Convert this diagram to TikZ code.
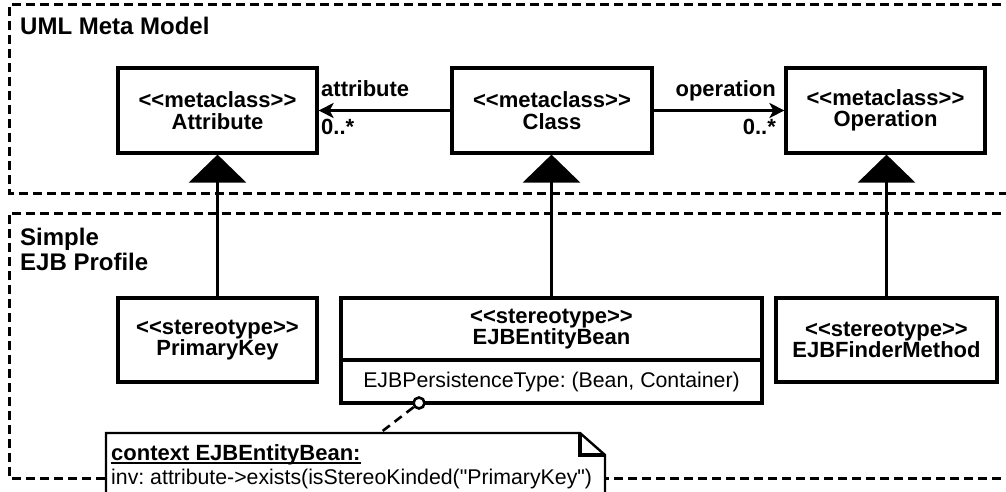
\documentclass[tikz,border=0pt]{standalone}
\usepackage{fontspec}
\newfontfamily\umlfont{Liberation Sans}
\usetikzlibrary{arrows.meta,calc}
\begin{document}
\frenchspacing
\begin{tikzpicture}[x=1pt,y=-1pt,
  every node/.style={font=\umlfont\fontsize{21.3}{21}\selectfont, inner sep=0pt},
  bold/.style={font=\umlfont\bfseries\fontsize{22}{21.5}\selectfont, align=center},
  title/.style={font=\umlfont\bfseries\fontsize{24}{25}\selectfont, anchor=base west},
  box/.style={draw, line width=3.2pt, fill=white, align=center,
    font=\umlfont\bfseries\fontsize{22}{21.5}\selectfont},
  frame/.style={line width=3pt, dash pattern=on 9pt off 5pt},
  gen/.style={line width=3pt, -{Triangle[length=28pt,width=57pt]}},
  assoc/.style={line width=3pt, -{Stealth[length=15pt,width=15pt,inset=4pt]}},
  lbl/.style={font=\umlfont\bfseries\fontsize{22}{21}\selectfont},
  noteline/.style={line width=2.6pt, dash pattern=on 9pt off 6pt}
]
\useasboundingbox (0,0) rectangle (1006,492);

% package frames, open to the right
\draw[frame] (1015,5) -- (9,5) -- (9,193) -- (1015,193);
\draw[frame] (1015,213) -- (9,213) -- (9,478) -- (1015,478);
\node[title] (tmeta) at (20,35) {UML Meta Model};
\node[title] (tsimple) at (20,245) {Simple};
\node[title] (tprofile) at (20,270) {EJB Profile};

% metaclasses
\node[box, minimum width=199pt, minimum height=85pt] (attr) at (217.5,110.5) {<<metaclass>>\\Attribute};
\node[box, minimum width=200pt, minimum height=85pt] (cls) at (552,110.5) {<<metaclass>>\\Class};
\node[box, minimum width=199pt, minimum height=85pt] (op) at (885.5,110.5) {<<metaclass>>\\Operation};

% stereotypes
\node[box, minimum width=199pt, minimum height=84pt] (pk) at (217.5,340) {<<stereotype>>\\PrimaryKey};
\node[box, minimum width=421pt, minimum height=105pt] (ejb) at (551.5,350.5) {};
\draw[line width=3.2pt] ($(ejb.west)+(0,9.5)$) -- ($(ejb.east)+(0,9.5)$);
\node[bold] (ejbname) at (551.5,329) {<<stereotype>>\\EJBEntityBean};
\node (ejbattr) at (551.5,381.5) {EJBPersistenceType: (Bean, Container)};
\node[box, minimum width=221pt, minimum height=84pt] (fm) at (886.5,340) {<<stereotype>>\\EJBFinderMethod};

% associations
\draw[assoc] (cls.west) -- (attr.east);
\draw[assoc] (cls.east) -- (op.west);
\node[lbl, anchor=base west] (la) at (321,97) {attribute};
\node[lbl, anchor=base west] (ma) at (321,135) {0..*};
\node[lbl, anchor=base east] (lo) at (776,97) {operation};
\node[lbl, anchor=base east] (mo) at (776,135) {0..*};

% extensions
\draw[gen] (pk.north) -- (pk.north |- attr.south);
\draw[gen] (ejb.north) -- (ejb.north |- cls.south);
\draw[gen] (fm.north) -- (fm.north |- op.south);

% constraint note
\filldraw[fill=white, line width=2.4pt] (106,505) -- (106,433) -- (580,433) -- (605,455) -- (605,505) -- cycle;
\draw[line width=3.2pt, line join=miter] (580,433) -- (580,455) -- (605,455);
\node[anchor=base west, font=\umlfont\bfseries\fontsize{22}{21}\selectfont] (ctx) at (111,460) {context EJBEntityBean:};
\draw[line width=1.8pt] ($(ctx.base west)+(0,3)$) -- ($(ctx.base east)+(0,3)$);
\node[anchor=base west] (inv) at (111,484) {inv: attribute->exists(isStereoKinded("PrimaryKey")};
\coordinate (ntop) at (380,433);
\node[circle, draw, fill=white, line width=2.6pt, minimum size=11pt] (anc) at (419,403) {};
\draw[noteline] (anc) -- (ntop);
\end{tikzpicture}
\end{document}
